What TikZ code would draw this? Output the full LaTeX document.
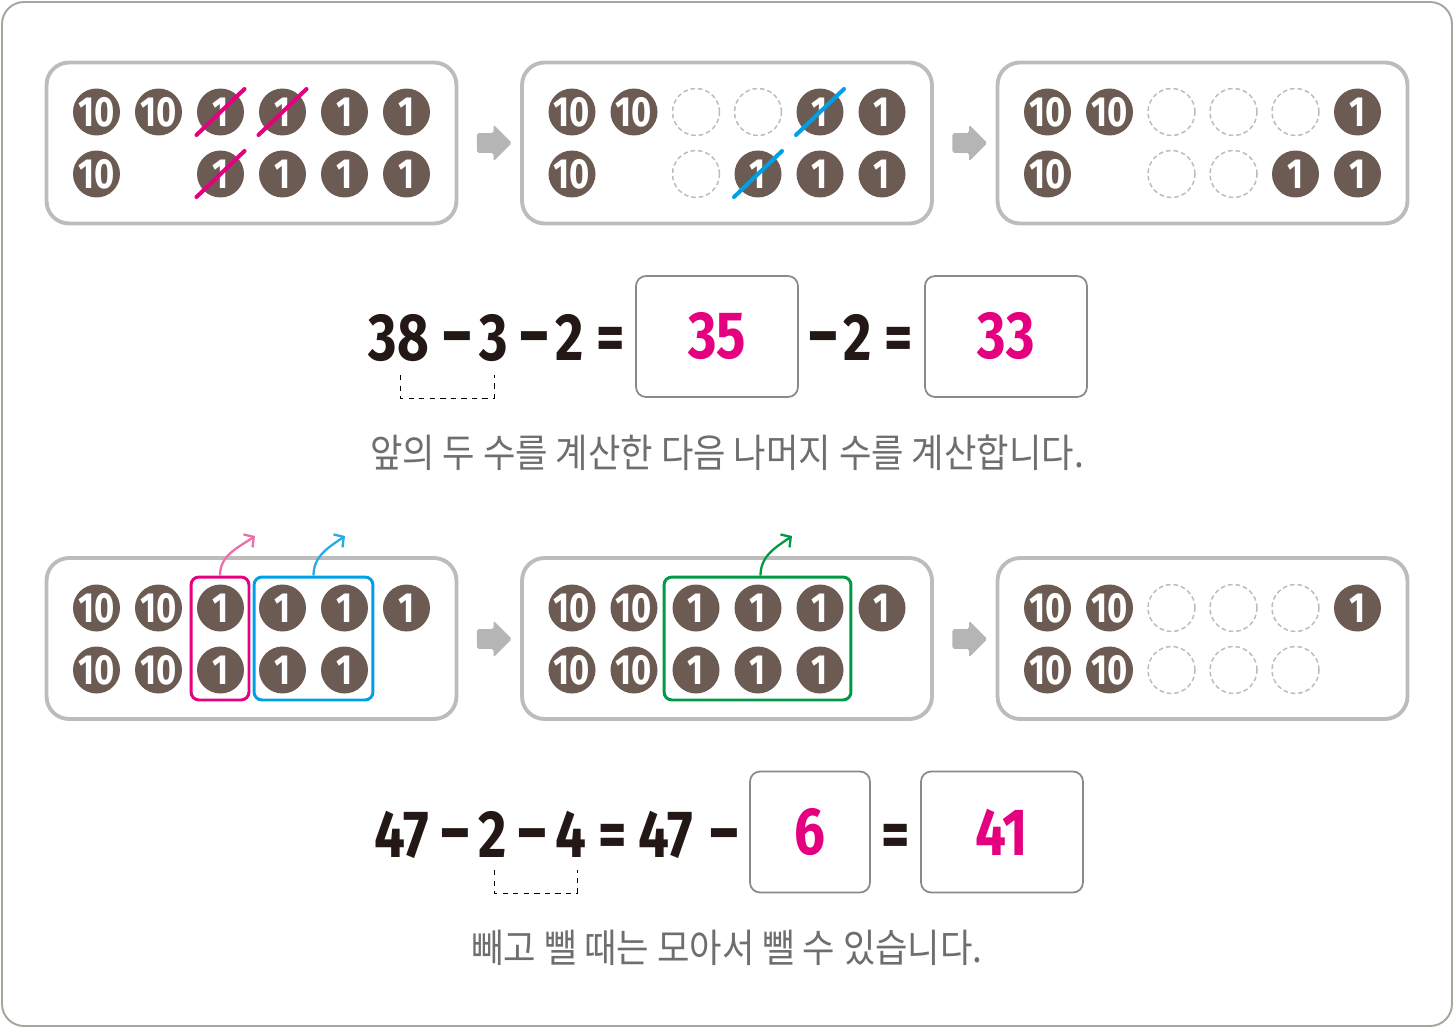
\documentclass[tikz,border=0pt]{standalone}
\usepackage{fontspec}
\usepackage{graphicx}
\usepackage{tikz}
\usetikzlibrary{shapes,arrows.meta,positioning,calc}
\setmainfont{Fira Sans}
\newfontfamily\numFont[FakeStretch=0.82]{Fira Sans}
\newfontfamily\krFont[FakeStretch=0.9]{Noto Sans CJK KR}
\newcommand{\wideMinus}{\scalebox{1.12}[1.1]{−}}
\definecolor{cnCoin}{HTML}{6B5B53}
\definecolor{cnPanel}{HTML}{BCBCBC}
\definecolor{cnFrame}{HTML}{A9A39C}
\definecolor{cnMagenta}{HTML}{E4007F}
\definecolor{cnBlue}{HTML}{00A0E9}
\definecolor{cnGreen}{HTML}{009944}
\definecolor{cnPink}{HTML}{EE6EA7}
\definecolor{cnSky}{HTML}{29ABE2}
\definecolor{cnText}{HTML}{231815}
\definecolor{cnGray}{HTML}{6E6E6E}
\definecolor{cnBoxLine}{HTML}{8A8A8A}
\definecolor{cnArrow}{HTML}{B5B5B5}
\tikzset{
    panelBox/.style={
        rectangle,
        draw=cnPanel,
        line width=2.2pt,
        rounded corners=0.45cm,
        minimum width=8.2cm,
        minimum height=3.22cm
    },
    coinBase/.style={
        circle,
        minimum size=0.94cm,
        inner sep=0pt
    },
    % Coin variants
    tenCoin/.style={coinBase, fill=cnCoin, text=white, font=\numFont\bfseries\fontsize{24}{24}\selectfont},
    oneCoin/.style={tenCoin},
    emptyCoin/.style={coinBase, draw=cnPanel, line width=0.85pt, dash pattern=on 2.6pt off 1.7pt},
    % Equations
    eqText/.style={anchor=base, text=cnText, font=\numFont\bfseries\fontsize{38}{38}\selectfont, inner sep=0pt},
    ansBox/.style={
        rectangle,
        draw=cnBoxLine,
        line width=1pt,
        rounded corners=0.2cm,
        minimum height=2.42cm,
        text=cnMagenta,
        font=\numFont\bfseries\fontsize{38}{38}\selectfont
    },
    krNote/.style={text=cnGray, font=\krFont\fontsize{22.3}{22.3}\selectfont},
    % Marks
    strikeLine/.style={line width=2.3pt, line cap=round},
    groupBox/.style={rectangle, line width=1.7pt, rounded corners=0.16cm, minimum height=2.46cm},
    bendArrow/.style={line width=1.3pt, -{Straight Barb[length=4pt,width=9pt]}},
    grayArrow/.style={single arrow, fill=cnArrow, inner sep=0.19cm, single arrow head extend=0.17cm, minimum height=0.7cm, rounded corners=1pt}
}
\begin{document}
\begin{tikzpicture}[x=0.02cm, y=-0.02cm]
\useasboundingbox (0,0) rectangle (1454,1028);
\draw[cnFrame, line width=1.1pt, rounded corners=0.44cm] (2,2) rectangle (1452,1026);

% panels and gray arrows
\foreach \n/\px/\py in {1/251.5/143, 2/727/143, 3/1202.5/143, 4/251.5/638.5, 5/727/638.5, 6/1202.5/638.5}
  \node[panelBox] (panel\n) at (\px,\py) {};
\node[grayArrow] (arr1) at (489.5,143) {};
\node[grayArrow] (arr2) at (965,143) {};
\node[grayArrow] (arr3) at (489.5,639) {};
\node[grayArrow] (arr4) at (965,639) {};

% top row of panels
\begin{scope}[shift={(96.5,112)}]
  \foreach \i/\j in {1/1, 2/1, 1/2} \node[tenCoin] (p1-\i-\j) at ({62*(\i-1)},{62*(\j-1)}) {10};
  \foreach \i/\j in {3/1, 4/1, 5/1, 6/1, 3/2, 4/2, 5/2, 6/2} \node[oneCoin] (p1-\i-\j) at ({62*(\i-1)},{62*(\j-1)}) {1};
\end{scope}
\begin{scope}[shift={(572,112)}]
  \foreach \i/\j in {1/1, 2/1, 1/2} \node[tenCoin] (p2-\i-\j) at ({62*(\i-1)},{62*(\j-1)}) {10};
  \foreach \i/\j in {3/1, 4/1, 3/2} \node[emptyCoin] (p2-\i-\j) at ({62*(\i-1)},{62*(\j-1)}) {};
  \foreach \i/\j in {5/1, 6/1, 4/2, 5/2, 6/2} \node[oneCoin] (p2-\i-\j) at ({62*(\i-1)},{62*(\j-1)}) {1};
\end{scope}
\begin{scope}[shift={(1047.5,112)}]
  \foreach \i/\j in {1/1, 2/1, 1/2} \node[tenCoin] (p3-\i-\j) at ({62*(\i-1)},{62*(\j-1)}) {10};
  \foreach \i/\j in {3/1, 4/1, 5/1, 3/2, 4/2} \node[emptyCoin] (p3-\i-\j) at ({62*(\i-1)},{62*(\j-1)}) {};
  \foreach \i/\j in {6/1, 5/2, 6/2} \node[oneCoin] (p3-\i-\j) at ({62*(\i-1)},{62*(\j-1)}) {1};
\end{scope}

% crossed out coins
\foreach \c in {p1-3-1, p1-4-1, p1-3-2}
  \draw[strikeLine, cnMagenta] ([shift={(-24,23)}]\c.center) -- ([shift={(24,-23)}]\c.center);
\foreach \c in {p2-5-1, p2-4-2}
  \draw[strikeLine, cnBlue] ([shift={(-24,23)}]\c.center) -- ([shift={(24,-23)}]\c.center);

% first equation
\foreach \x/\t [count=\k] in {399/38, 457.5/\wideMinus, 494/3, 534.5/\wideMinus, 570/2, 611/=, 823/\wideMinus, 858/2, 899/=}
  \node[eqText] (eqA\k) at (\x,360) {\t};
\node[ansBox, minimum width=3.24cm] (ansA1) at (717,336.5) {35};
\node[ansBox, minimum width=3.24cm] (ansA2) at (1006,336.5) {33};
\draw[dashed, thin] (400,375) |- (494,398) -- (494,375);
\node[krNote] (noteA) at (727,453) {앞의 두 수를 계산한 다음 나머지 수를 계산합니다.};

% bottom row of panels
\begin{scope}[shift={(96.5,608)}]
  \foreach \i/\j in {1/1, 2/1, 1/2, 2/2} \node[tenCoin] (p4-\i-\j) at ({62*(\i-1)},{62*(\j-1)}) {10};
  \foreach \i/\j in {3/1, 4/1, 5/1, 6/1, 3/2, 4/2, 5/2} \node[oneCoin] (p4-\i-\j) at ({62*(\i-1)},{62*(\j-1)}) {1};
\end{scope}
\begin{scope}[shift={(572,608)}]
  \foreach \i/\j in {1/1, 2/1, 1/2, 2/2} \node[tenCoin] (p5-\i-\j) at ({62*(\i-1)},{62*(\j-1)}) {10};
  \foreach \i/\j in {3/1, 4/1, 5/1, 6/1, 3/2, 4/2, 5/2} \node[oneCoin] (p5-\i-\j) at ({62*(\i-1)},{62*(\j-1)}) {1};
\end{scope}
\begin{scope}[shift={(1047.5,608)}]
  \foreach \i/\j in {1/1, 2/1, 1/2, 2/2} \node[tenCoin] (p6-\i-\j) at ({62*(\i-1)},{62*(\j-1)}) {10};
  \foreach \i/\j in {3/1, 4/1, 5/1, 3/2, 4/2, 5/2} \node[emptyCoin] (p6-\i-\j) at ({62*(\i-1)},{62*(\j-1)}) {};
  \node[oneCoin] (p6-6-1) at (310,0) {1};
\end{scope}

% grouped coins
\node[groupBox, draw=cnMagenta, minimum width=1.16cm] (grpPink) at (220,638.5) {};
\node[groupBox, draw=cnBlue, minimum width=2.38cm] (grpBlue) at (313.5,638.5) {};
\node[groupBox, draw=cnGreen, minimum width=3.74cm] (grpGreen) at (757.5,638.5) {};
\coordinate (tipPink) at (255,536);
\coordinate (tipBlue) at (345,536);
\coordinate (tipGreen) at (792,536);
\draw[bendArrow, cnPink] (grpPink.north) to[out=90, in=215] (tipPink);
\draw[bendArrow, cnSky] (grpBlue.north) to[out=90, in=215] (tipBlue);
\draw[bendArrow, cnGreen] ([xshift=0.06cm]grpGreen.north) to[out=90, in=215] (tipGreen);

% second equation
\foreach \x/\t [count=\k] in {402/47, 455/\wideMinus, 493/2, 532/\wideMinus, 571/4, 613/=, 666/47, 724/\wideMinus, 896/=}
  \node[eqText] (eqB\k) at (\x,857) {\t};
\node[ansBox, minimum width=2.4cm] (ansB1) at (810,832) {6};
\node[ansBox, minimum width=3.24cm] (ansB2) at (1002,832) {41};
\draw[dashed, thin] (494,870) |- (577,893) -- (577,870);
\node[krNote] (noteB) at (727,948) {빼고 뺄 때는 모아서 뺄 수 있습니다.};
\end{tikzpicture}
\end{document}
